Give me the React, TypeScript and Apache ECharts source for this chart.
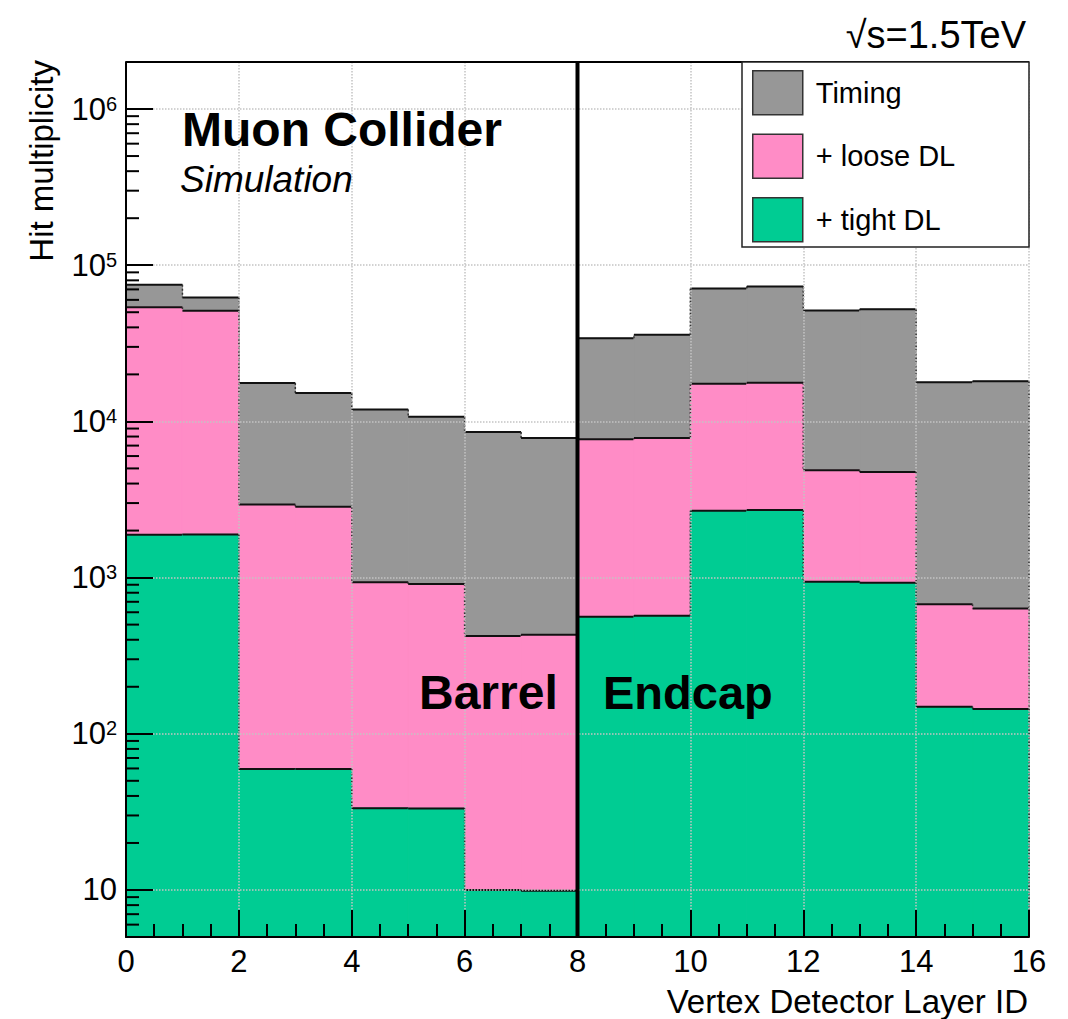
import React, { useEffect, useRef } from 'react';
import * as echarts from 'echarts';

const layerBins = [0, 1, 2, 3, 4, 5, 6, 7, 8, 9, 10, 11, 12, 13, 14, 15];
const timingHits = [75000, 62100, 17600, 15200, 11900, 10700, 8550, 7830, 34100, 35900, 71000, 73100, 51300, 52300, 17800, 18100];
const looseDLHits = [53900, 51100, 2940, 2840, 932, 909, 423, 431, 7680, 7830, 17400, 17700, 4870, 4750, 674, 635];
const tightDLHits = [1880, 1890, 59.6, 59.5, 33.4, 33.3, 10, 9.9, 562, 570, 2675, 2713, 940, 927, 149, 144];
const seriesNames = ['Timing', '+ loose DL', '+ tight DL'];
const seriesColors = ['#979797', '#ff8cc6', '#00cc93'];
const yMin = 5;
const yMax = 2e6;
const xMin = 0;
const xMax = 16;
const decadeStarts = [1, 10, 100, 1000, 10000, 100000, 1000000];
const minorMultipliers = [2, 3, 4, 5, 6, 7, 8, 9];
const dividerLayer = 8;

const FONT = '"Liberation Sans", Arial, Helvetica, sans-serif';

const yMinorTicks: number[] = [];
decadeStarts.forEach((d) => {
  minorMultipliers.forEach((m) => {
    const v = d * m;
    if (v > yMin && v < yMax) yMinorTicks.push(v);
  });
});

function histSeries(name: string, color: string, vals: number[], z: number) {
  const n = vals.length;
  return {
    type: 'custom',
    name,
    z,
    itemStyle: { color },
    encode: { x: 0, y: 1 },
    data: layerBins.map((b, i) => [b, vals[i], i === 0 ? yMin : vals[i - 1]]),
    renderItem: (params: any, api: any) => {
      const x0 = api.value(0);
      const v = api.value(1);
      const pv = api.value(2);
      const tl = api.coord([x0, v]);
      const br = api.coord([x0 + 1, yMin]);
      const pp = api.coord([x0, pv]);
      const children: any[] = [
        {
          type: 'rect',
          shape: { x: tl[0], y: tl[1], width: br[0] - tl[0], height: br[1] - tl[1] },
          style: { fill: color, stroke: color, lineWidth: 1 },
        },
        {
          type: 'line',
          shape: { x1: tl[0], y1: pp[1], x2: tl[0], y2: tl[1] },
          style: { stroke: '#333', lineWidth: 1.5, lineDash: [2, 2] },
        },
        {
          type: 'line',
          shape: { x1: tl[0], y1: tl[1], x2: br[0], y2: tl[1] },
          style: { stroke: '#111', lineWidth: 2 },
        },
      ];
      if (params.dataIndex === n - 1) {
        children.push({
          type: 'line',
          shape: { x1: br[0], y1: tl[1], x2: br[0], y2: br[1] },
          style: { stroke: '#333', lineWidth: 1.5, lineDash: [2, 2] },
        });
      }
      return { type: 'group', children };
    },
  };
}

export default function App() {
  const ref = useRef<HTMLDivElement>(null);
  useEffect(() => {
    if (!ref.current) return;
    const chart = echarts.init(ref.current, undefined, { renderer: 'svg' });
    const axisLineStyle = { color: '#000', width: 2 };
    const option: any = {
      animation: false,
      backgroundColor: '#fff',
      grid: { left: 126, top: 62, width: 903, height: 875, containLabel: false },
      xAxis: {
        type: 'value',
        min: xMin,
        max: xMax,
        interval: 2,
        z: 10,
        axisLine: { show: true, lineStyle: axisLineStyle },
        axisTick: { show: true, inside: true, length: 27, lineStyle: axisLineStyle },
        minorTick: { show: true, splitNumber: 4, length: 13, lineStyle: axisLineStyle },
        axisLabel: { fontSize: 31, color: '#000', fontFamily: FONT, margin: 9 },
        splitLine: { show: true, lineStyle: { color: '#c4c4c4', type: 'dotted', width: 1.5 } },
      },
      yAxis: {
        type: 'log',
        logBase: 10,
        min: yMin,
        max: yMax,
        z: 10,
        axisLine: { show: true, lineStyle: axisLineStyle },
        axisTick: { show: true, inside: true, length: 27, lineStyle: axisLineStyle },
        axisLabel: {
          margin: 9,
          color: '#000',
          fontFamily: FONT,
          formatter: (val: number) => {
            const lg = Math.log10(val);
            const p = Math.round(lg);
            if (Math.abs(lg - p) > 1e-6) return '';
            if (p === 1) return '{c|10}';
            return '{a|10}{b|' + p + '}';
          },
          rich: {
            a: { fontSize: 31, lineHeight: 31, padding: [7, 0, 0, 0], verticalAlign: 'bottom', fontFamily: FONT, color: '#000' },
            b: { fontSize: 20, lineHeight: 22, verticalAlign: 'top', fontFamily: FONT, color: '#000' },
            c: { fontSize: 31, lineHeight: 31, fontFamily: FONT, color: '#000' },
          },
        },
        splitLine: { show: true, lineStyle: { color: '#c4c4c4', type: 'dotted', width: 1.5 } },
      },
      legend: {
        data: seriesNames,
        orient: 'vertical',
        left: 752,
        top: 70,
        padding: 0,
        itemWidth: 50,
        itemHeight: 44,
        itemGap: 18,
        icon: 'rect',
        z: 30,
        selectedMode: false,
        itemStyle: { borderColor: '#333', borderWidth: 1.5 },
        textStyle: { fontSize: 29, color: '#000', fontFamily: FONT, padding: [0, 0, 0, 8] },
      },
      graphic: [
        { type: 'rect', z: 25, shape: { x: 742, y: 62, width: 287, height: 185 }, style: { fill: '#fff', stroke: '#222', lineWidth: 1.5 } },
        { type: 'line', z: 24, shape: { x1: 126, y1: 62, x2: 1029, y2: 62 }, style: { stroke: '#000', lineWidth: 2 } },
        { type: 'text', z: 26, x: 182, y: 129, style: { text: 'Muon Collider', fontSize: 48, fontWeight: 'bold', fontFamily: FONT, fill: '#000', align: 'left', textAlign: 'left', verticalAlign: 'middle', textVerticalAlign: 'middle' } },
        { type: 'text', z: 26, x: 180, y: 179, style: { text: 'Simulation', fontSize: 37, fontStyle: 'italic', fontFamily: FONT, fill: '#000', align: 'left', textAlign: 'left', verticalAlign: 'middle', textVerticalAlign: 'middle' } },
        { type: 'text', z: 26, x: 419, y: 692, style: { text: 'Barrel', fontSize: 48, fontWeight: 'bold', fontFamily: FONT, fill: '#000', align: 'left', textAlign: 'left', verticalAlign: 'middle', textVerticalAlign: 'middle' } },
        { type: 'text', z: 26, x: 603, y: 692, style: { text: 'Endcap', fontSize: 47, fontWeight: 'bold', fontFamily: FONT, fill: '#000', align: 'left', textAlign: 'left', verticalAlign: 'middle', textVerticalAlign: 'middle' } },
        { type: 'text', z: 26, x: 1026, y: 35, style: { text: '√s=1.5TeV', fontSize: 38, fontFamily: FONT, fill: '#000', align: 'right', textAlign: 'right', verticalAlign: 'middle', textVerticalAlign: 'middle' } },
        { type: 'text', z: 26, x: 1028, y: 1001, style: { text: 'Vertex Detector Layer ID', fontSize: 33, fontFamily: FONT, fill: '#000', align: 'right', textAlign: 'right', verticalAlign: 'middle', textVerticalAlign: 'middle' } },
        { type: 'text', z: 26, x: 41, y: 60, rotation: Math.PI / 2, style: { text: 'Hit multiplicity', fontSize: 33, fontFamily: FONT, fill: '#000', align: 'right', textAlign: 'right', verticalAlign: 'middle', textVerticalAlign: 'middle' } },
      ],
      series: [
        histSeries(seriesNames[0], seriesColors[0], timingHits, 2),
        histSeries(seriesNames[1], seriesColors[1], looseDLHits, 3),
        histSeries(seriesNames[2], seriesColors[2], tightDLHits, 4),
        {
          type: 'custom',
          name: 'minorTicks',
          z: 12,
          silent: true,
          encode: { x: 0, y: 1 },
          data: yMinorTicks.map((v) => [xMin, v]),
          renderItem: (_p: any, api: any) => {
            const pt = api.coord([api.value(0), api.value(1)]);
            return { type: 'line', shape: { x1: pt[0], y1: pt[1], x2: pt[0] + 13, y2: pt[1] }, style: { stroke: '#000', lineWidth: 2 } };
          },
        },
        {
          type: 'custom',
          name: 'divider',
          z: 13,
          silent: true,
          encode: { x: 0, y: 1 },
          data: [[dividerLayer, yMin, yMax]],
          renderItem: (_p: any, api: any) => {
            const a = api.coord([api.value(0), api.value(1)]);
            const b = api.coord([api.value(0), api.value(2)]);
            return { type: 'line', shape: { x1: a[0], y1: a[1], x2: b[0], y2: b[1] }, style: { stroke: '#000', lineWidth: 4 } };
          },
        },
      ],
    };
    chart.setOption(option);
    return () => chart.dispose();
  }, []);
  return <div ref={ref} style={{ position: 'fixed', left: 0, top: 0, width: 1068, height: 1019, background: '#fff' }} />;
}
